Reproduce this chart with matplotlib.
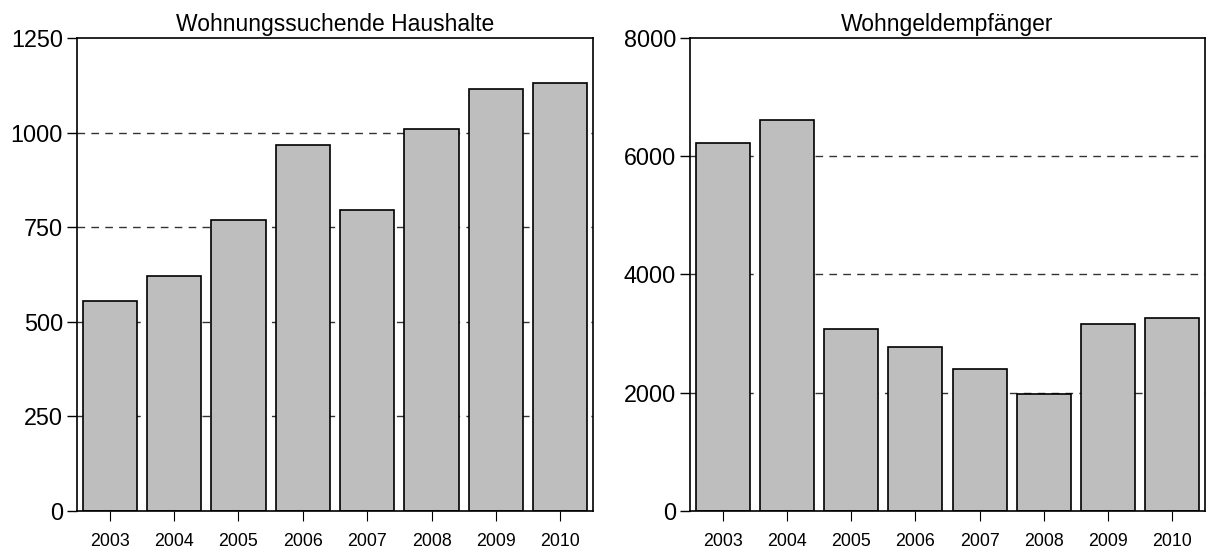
import matplotlib
matplotlib.use("Agg")
import matplotlib.pyplot as plt
import numpy as np

plt.rcParams['font.family'] = ['Liberation Sans', 'DejaVu Sans']

years = ['2003', '2004', '2005', '2006', '2007', '2008', '2009', '2010']
haushalte = [556, 620, 768, 966, 796, 1010, 1116, 1132]
wohngeld = [6222, 6610, 3075, 2766, 2396, 1975, 3168, 3270]

title_left = 'Wohnungssuchende Haushalte'
title_right = 'Wohngeldempfänger'
yticks_left = [0, 250, 500, 750, 1000, 1250]
yticks_right = [0, 2000, 4000, 6000, 8000]

fig = plt.figure(figsize=(12.07, 5.49), dpi=100)
ax1 = fig.add_axes([77/1207, 38/549, 516/1207, 473/549])
ax2 = fig.add_axes([690/1207, 38/549, 515/1207, 473/549])

def draw(ax, vals, yticks, title):
    x = np.arange(len(years))
    ax.set_axisbelow(True)
    for t in yticks[1:-1]:
        ax.axhline(t, color='#333333', lw=1.0, dashes=(5.5, 4.5), zorder=0)
    ax.bar(x, vals, width=0.84, color='#bebebe', edgecolor='black', linewidth=1.2, zorder=2)
    ax.set_xlim(-0.51, len(years) - 0.49)
    ax.set_ylim(yticks[0], yticks[-1])
    ax.set_yticks(yticks)
    ax.set_yticklabels([str(t) for t in yticks], fontsize=16.8)
    ax.set_xticks(x)
    ax.set_xticklabels(years, fontsize=12.8)
    ax.tick_params(axis='y', direction='out', length=7, width=1.0, pad=3)
    ax.tick_params(axis='x', direction='out', length=7, width=0.8, pad=9)
    for s in ax.spines.values():
        s.set_linewidth(1.2)
        s.set_color('black')
    ax.set_title(title, fontsize=16.5, pad=5)

draw(ax1, haushalte, yticks_left, title_left)
draw(ax2, wohngeld, yticks_right, title_right)

fig.savefig('out.png', dpi=100)
